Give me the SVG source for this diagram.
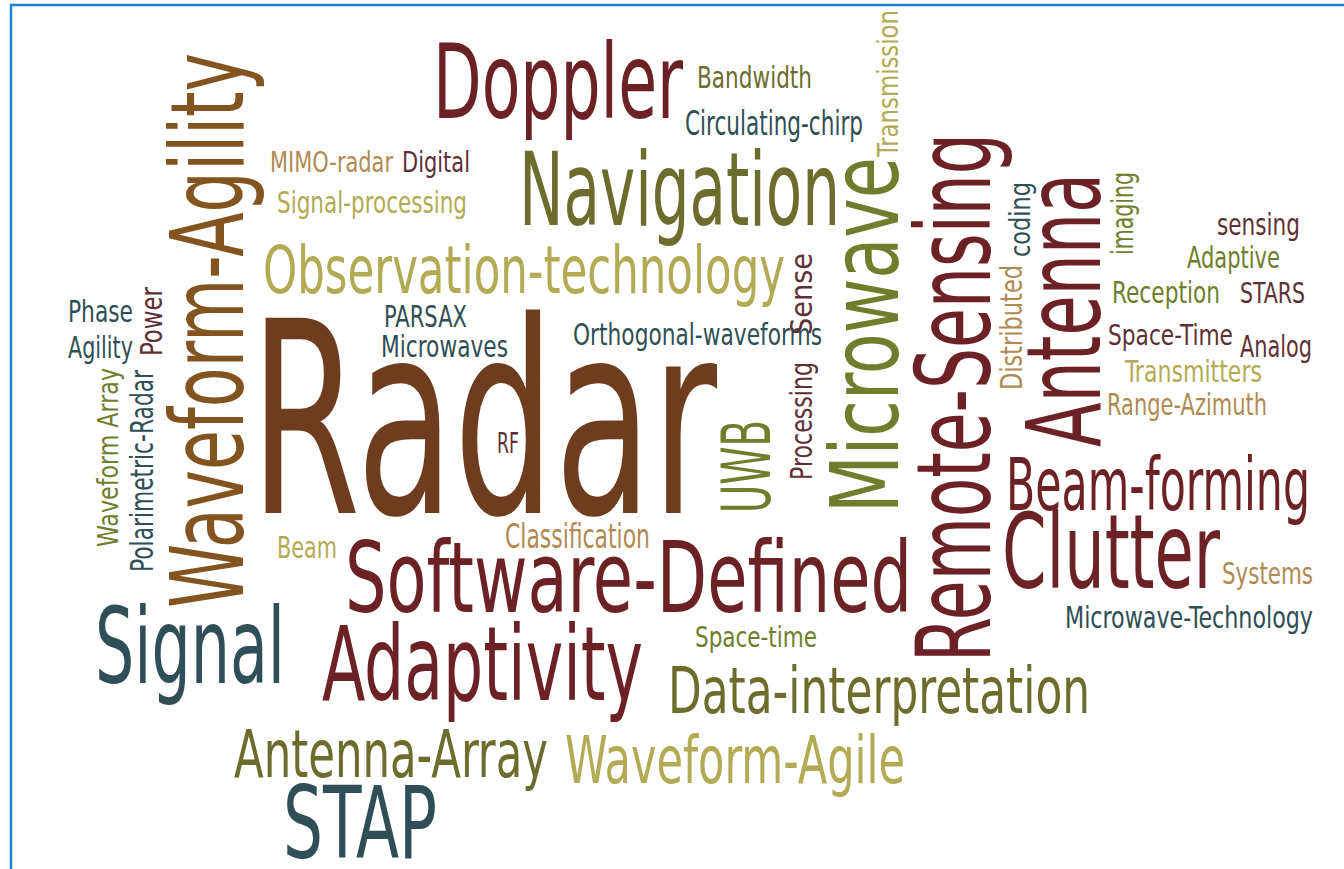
<svg xmlns="http://www.w3.org/2000/svg" width="1344" height="869" viewBox="0 0 1344 869">
<style>
text{font-family:"Liberation Sans Narrow","DejaVu Sans Condensed","Roboto Condensed","Liberation Sans",sans-serif;}
.m{fill:#6B2126}.rb{fill:#6E3C1E}.wb{fill:#82541F}.ol{fill:#6C6C2C}.og{fill:#6E7E2C}
.kh{fill:#B1AB53}.tl{fill:#2F4E55}.tn{fill:#B08A52}.mv{fill:#5E3035}
</style>
<rect x="0" y="0" width="1344" height="869" fill="#ffffff"/>
<rect x="11" y="5" width="1345" height="880" fill="none" stroke="#1F7FD2" stroke-width="2.5"/>
<g id="words">
<g id="w-radar"><text class="rb" x="250" y="513" font-size="268" textLength="467" lengthAdjust="spacingAndGlyphs">Radar</text></g>
<g id="w-doppler"><text class="m" x="433" y="118" font-size="104" textLength="250" lengthAdjust="spacingAndGlyphs">Doppler</text></g>
<g id="w-bandwidth"><text class="ol" x="697" y="88" font-size="30" textLength="115" lengthAdjust="spacingAndGlyphs">Bandwidth</text></g>
<g id="w-circulating"><text class="tl" x="685" y="135" font-size="34" textLength="178" lengthAdjust="spacingAndGlyphs">Circulating-chirp</text></g>
<g id="w-mimo"><text class="tn" x="270" y="172" font-size="28" textLength="123" lengthAdjust="spacingAndGlyphs">MIMO-radar</text></g>
<g id="w-digital"><text class="mv" x="402" y="172" font-size="28" textLength="68" lengthAdjust="spacingAndGlyphs">Digital</text></g>
<g id="w-sigproc"><text class="kh" x="277" y="213" font-size="31" textLength="190" lengthAdjust="spacingAndGlyphs">Signal-processing</text></g>
<g id="w-navigation"><text class="ol" x="519" y="225" font-size="101" textLength="321" lengthAdjust="spacingAndGlyphs">Navigation</text></g>
<g id="w-observation"><text class="kh" x="263" y="293" font-size="66" textLength="522" lengthAdjust="spacingAndGlyphs">Observation-technology</text></g>
<g id="w-phase"><text class="tl" x="68" y="322" font-size="30" textLength="65" lengthAdjust="spacingAndGlyphs">Phase</text></g>
<g id="w-agility"><text class="tl" x="68" y="358" font-size="30" textLength="65" lengthAdjust="spacingAndGlyphs">Agility</text></g>
<g id="w-parsax"><text class="tl" x="384" y="327" font-size="30" textLength="83" lengthAdjust="spacingAndGlyphs">PARSAX</text></g>
<g id="w-microwaves"><text class="tl" x="381" y="357" font-size="30" textLength="127" lengthAdjust="spacingAndGlyphs">Microwaves</text></g>
<g id="w-orthogonal"><text class="tl" x="573" y="345" font-size="31" textLength="249" lengthAdjust="spacingAndGlyphs">Orthogonal-waveforms</text></g>
<g id="w-rf"><text class="mv" x="497" y="453" font-size="29" textLength="22" lengthAdjust="spacingAndGlyphs">RF</text></g>
<g id="w-classification"><text class="tn" x="505" y="548" font-size="34" textLength="145" lengthAdjust="spacingAndGlyphs">Classification</text></g>
<g id="w-beam"><text class="kh" x="277" y="558" font-size="30" textLength="60" lengthAdjust="spacingAndGlyphs">Beam</text></g>
<g id="w-software"><text class="m" x="345" y="612" font-size="98" textLength="567" lengthAdjust="spacingAndGlyphs">Software-Defined</text></g>
<g id="w-signal"><text class="tl" x="95" y="683" font-size="105" textLength="190" lengthAdjust="spacingAndGlyphs">Signal</text></g>
<g id="w-adaptivity"><text class="m" x="322" y="700" font-size="104" textLength="321" lengthAdjust="spacingAndGlyphs">Adaptivity</text></g>
<g id="w-spacetime-l"><text class="og" x="695" y="647" font-size="29" textLength="122" lengthAdjust="spacingAndGlyphs">Space-time</text></g>
<g id="w-datainterp"><text class="ol" x="668" y="713" font-size="64" textLength="422" lengthAdjust="spacingAndGlyphs">Data-interpretation</text></g>
<g id="w-antennaarray"><text class="ol" x="234" y="777" font-size="65" textLength="314" lengthAdjust="spacingAndGlyphs">Antenna-Array</text></g>
<g id="w-wfagile"><text class="kh" x="565" y="783" font-size="66" textLength="340" lengthAdjust="spacingAndGlyphs">Waveform-Agile</text></g>
<g id="w-stap"><text class="tl" x="283" y="858" font-size="99" textLength="154" lengthAdjust="spacingAndGlyphs">STAP</text></g>
<g id="w-beamforming"><text class="m" x="1006" y="510" font-size="73" textLength="304" lengthAdjust="spacingAndGlyphs">Beam-forming</text></g>
<g id="w-clutter"><text class="m" x="1002" y="588" font-size="104" textLength="218" lengthAdjust="spacingAndGlyphs">Clutter</text></g>
<g id="w-systems"><text class="tn" x="1222" y="584" font-size="30" textLength="91" lengthAdjust="spacingAndGlyphs">Systems</text></g>
<g id="w-mwtech"><text class="tl" x="1065" y="628" font-size="30" textLength="248" lengthAdjust="spacingAndGlyphs">Microwave-Technology</text></g>
<g id="w-sensing"><text class="mv" x="1217" y="235" font-size="30" textLength="83" lengthAdjust="spacingAndGlyphs">sensing</text></g>
<g id="w-adaptive"><text class="og" x="1187" y="268" font-size="30" textLength="93" lengthAdjust="spacingAndGlyphs">Adaptive</text></g>
<g id="w-reception"><text class="og" x="1112" y="303" font-size="30" textLength="108" lengthAdjust="spacingAndGlyphs">Reception</text></g>
<g id="w-stars"><text class="mv" x="1240" y="303" font-size="28" textLength="65" lengthAdjust="spacingAndGlyphs">STARS</text></g>
<g id="w-spacetime-r"><text class="mv" x="1108" y="345" font-size="29" textLength="125" lengthAdjust="spacingAndGlyphs">Space-Time</text></g>
<g id="w-analog"><text class="mv" x="1240" y="357" font-size="30" textLength="72" lengthAdjust="spacingAndGlyphs">Analog</text></g>
<g id="w-transmitters"><text class="kh" x="1125" y="382" font-size="30" textLength="137" lengthAdjust="spacingAndGlyphs">Transmitters</text></g>
<g id="w-rangeaz"><text class="tn" x="1107" y="415" font-size="31" textLength="160" lengthAdjust="spacingAndGlyphs">Range-Azimuth</text></g>
<g id="w-wfagility"><text class="wb" transform="translate(243,608) rotate(-90)" font-size="101" textLength="555" lengthAdjust="spacingAndGlyphs">Waveform-Agility</text></g>
<g id="w-power"><text class="mv" transform="translate(162,356) rotate(-90)" font-size="31" textLength="69" lengthAdjust="spacingAndGlyphs">Power</text></g>
<g id="w-wfarray"><text class="og" transform="translate(118,547) rotate(-90)" font-size="29" textLength="179" lengthAdjust="spacingAndGlyphs">Waveform Array</text></g>
<g id="w-polarimetric"><text class="tl" transform="translate(153,572) rotate(-90)" font-size="32" textLength="202" lengthAdjust="spacingAndGlyphs">Polarimetric-Radar</text></g>
<g id="w-uwb"><text class="og" transform="translate(770,513) rotate(-90)" font-size="67" textLength="93" lengthAdjust="spacingAndGlyphs">UWB</text></g>
<g id="w-processing"><text class="mv" transform="translate(812,480) rotate(-90)" font-size="31" textLength="118" lengthAdjust="spacingAndGlyphs">Processing</text></g>
<g id="w-sense"><text class="mv" transform="translate(812,335) rotate(-90)" font-size="31" textLength="82" lengthAdjust="spacingAndGlyphs">Sense</text></g>
<g id="w-microwave"><text class="og" transform="translate(898,513) rotate(-90)" font-size="95" textLength="356" lengthAdjust="spacingAndGlyphs">Microwave</text></g>
<g id="w-transmission"><text class="kh" transform="translate(898,157) rotate(-90)" font-size="29" textLength="147" lengthAdjust="spacingAndGlyphs">Transmission</text></g>
<g id="w-remotesensing"><text class="m" transform="translate(990,662) rotate(-90)" font-size="104" textLength="529" lengthAdjust="spacingAndGlyphs">Remote-Sensing</text></g>
<g id="w-distributed"><text class="tn" transform="translate(1022,390) rotate(-90)" font-size="31" textLength="125" lengthAdjust="spacingAndGlyphs">Distributed</text></g>
<g id="w-coding"><text class="tl" transform="translate(1030,257) rotate(-90)" font-size="28" textLength="75" lengthAdjust="spacingAndGlyphs">coding</text></g>
<g id="w-antenna"><text class="m" transform="translate(1100,447) rotate(-90)" font-size="104" textLength="274" lengthAdjust="spacingAndGlyphs">Antenna</text></g>
<g id="w-imaging"><text class="og" transform="translate(1133,255) rotate(-90)" font-size="30" textLength="83" lengthAdjust="spacingAndGlyphs">imaging</text></g>
</g>
<g id="connectors"/>
</svg>
